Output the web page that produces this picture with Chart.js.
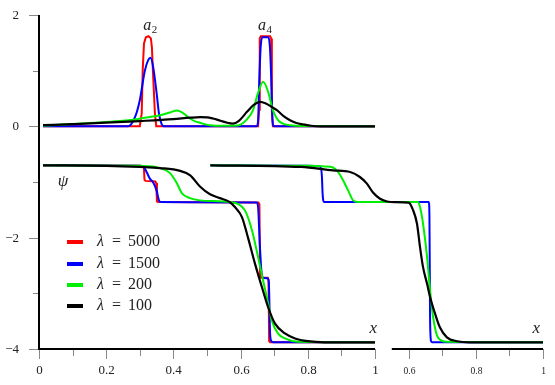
<!DOCTYPE html>
<html>
<head>
<meta charset="utf-8">
<script src="https://cdn.jsdelivr.net/npm/chart.js@4.4.0/dist/chart.umd.min.js"></script>
<style>
  html, body { margin: 0; padding: 0; background: #fff; }
  #wrap { width: 555px; height: 385px; }
</style>
</head>
<body>
<div id="wrap"><canvas id="chart" width="555" height="385"></canvas></div>
<script>
// Верхний ряд: амплитуды a(x) у узлов a2 и a4
const aRedX = [0.012, 0.300, 0.3057, 0.3086, 0.3125, 0.318, 0.326, 0.333, 0.336, 0.339, 0.345, 0.349, 0.652, 0.655, 0.657, 0.660, 0.688, 0.691, 0.693, 0.696, 1.0];
const aRedY = [0, 0, 0.23, 1.0, 1.49, 1.6, 1.62, 1.58, 1.42, 1.0, 0.23, 0, 0, 0.3, 1.58, 1.62, 1.62, 1.58, 0.3, 0, 0];

const aBlueX = [0.012, 0.265, 0.286, 0.300, 0.315, 0.325, 0.332, 0.340, 0.350, 0.357, 0.365, 0.372, 0.648, 0.652, 0.656, 0.660, 0.665, 0.682, 0.687, 0.691, 0.695, 0.699, 1.0];
const aBlueY = [0, 0, 0.17, 0.47, 1.0, 1.19, 1.23, 1.06, 0.6, 0.23, 0.04, 0, 0, 0.1, 0.9, 1.45, 1.6, 1.6, 1.45, 0.9, 0.1, 0, 0];

const aGreenX = [0.012, 0.1, 0.18, 0.25, 0.28, 0.32, 0.36, 0.39, 0.41, 0.42, 0.435, 0.449, 0.465, 0.479, 0.495, 0.509, 0.54, 0.58, 0.6, 0.618, 0.637, 0.652, 0.667, 0.682, 0.696, 0.707, 0.717, 0.73, 0.747, 0.78, 1.0];
const aGreenY = [0.01, 0.04, 0.07, 0.1, 0.12, 0.16, 0.2, 0.25, 0.285, 0.27, 0.21, 0.14, 0.09, 0.065, 0.035, 0.02, 0.01, 0.01, 0.03, 0.12, 0.29, 0.6, 0.8, 0.62, 0.29, 0.15, 0.08, 0.04, 0.02, 0.005, 0];

const aBlackX = [0.012, 0.1, 0.2, 0.3, 0.4, 0.45, 0.48, 0.5, 0.518, 0.54, 0.56, 0.577, 0.595, 0.619, 0.64, 0.658, 0.675, 0.69, 0.708, 0.727, 0.747, 0.766, 0.786, 0.81, 0.84, 1.0];
const aBlackY = [0.02, 0.04, 0.065, 0.095, 0.13, 0.155, 0.165, 0.162, 0.14, 0.1, 0.065, 0.05, 0.1, 0.26, 0.39, 0.44, 0.41, 0.36, 0.29, 0.19, 0.11, 0.06, 0.035, 0.01, 0, 0];

// Профиль psi(x), основной график
const psiRedX = [0.012, 0.30, 0.312, 0.314, 0.317, 0.346, 0.349, 0.351, 0.354, 0.653, 0.656, 0.658, 0.661, 0.681, 0.683, 0.685, 0.688, 1.0];
const psiRedY = [-0.70, -0.71, -0.72, -0.96, -0.98, -0.99, -1.02, -1.35, -1.36, -1.37, -1.4, -2.7, -2.72, -2.72, -2.75, -3.86, -3.88, -3.88];

const psiBlueX = [0.012, 0.30, 0.31, 0.321, 0.33, 0.339, 0.35, 0.357, 0.362, 0.648, 0.652, 0.657, 0.662, 0.667, 0.68, 0.684, 0.688, 0.692, 0.698, 1.0];
const psiBlueY = [-0.70, -0.71, -0.72, -0.83, -0.94, -1.0, -1.15, -1.33, -1.36, -1.37, -1.45, -2.1, -2.6, -2.72, -2.73, -2.8, -3.75, -3.86, -3.88, -3.88];

const psiGreenX = [0.012, 0.3, 0.34, 0.36, 0.39, 0.41, 0.425, 0.449, 0.479, 0.55, 0.59, 0.613, 0.634, 0.652, 0.667, 0.682, 0.693, 0.711, 0.732, 0.77, 1.0];
const psiGreenY = [-0.70, -0.71, -0.72, -0.75, -0.84, -1.02, -1.2, -1.29, -1.33, -1.35, -1.39, -1.51, -1.87, -2.35, -2.77, -3.18, -3.49, -3.72, -3.81, -3.87, -3.88];

const psiBlackX = [0.012, 0.2, 0.3, 0.36, 0.42, 0.45, 0.479, 0.509, 0.539, 0.568, 0.583, 0.604, 0.622, 0.643, 0.664, 0.682, 0.702, 0.732, 0.762, 0.8, 0.85, 1.0];
const psiBlackY = [-0.70, -0.71, -0.73, -0.75, -0.80, -0.88, -1.08, -1.22, -1.29, -1.36, -1.45, -1.63, -2.0, -2.47, -2.9, -3.25, -3.54, -3.72, -3.81, -3.86, -3.88, -3.88];

// Профиль psi(x), вставка справа (своя ось x, сдвинута)
const psi2BlueX = [0.01, 0.3, 0.338, 0.342, 0.344, 0.347, 0.35, 0.66, 0.662, 0.664, 0.667, 0.67, 1.0];
const psi2BlueY = [-0.70, -0.71, -0.72, -0.9, -1.2, -1.35, -1.36, -1.36, -1.6, -3.5, -3.86, -3.88, -3.88];

const psi2GreenX = [0.01, 0.3, 0.35, 0.375, 0.39, 0.405, 0.42, 0.435, 0.45, 0.628, 0.634, 0.643, 0.655, 0.664, 0.673, 0.688, 0.714, 1.0];
const psi2GreenY = [-0.70, -0.71, -0.72, -0.74, -0.82, -0.97, -1.15, -1.33, -1.36, -1.36, -1.45, -1.75, -2.35, -2.95, -3.43, -3.8, -3.87, -3.88];

const psi2BlackX = [0.01, 0.28, 0.375, 0.426, 0.455, 0.476, 0.494, 0.515, 0.536, 0.56, 0.6, 0.613, 0.625, 0.634, 0.643, 0.655, 0.664, 0.679, 0.693, 0.714, 0.744, 0.78, 1.0];
const psi2BlackY = [-0.70, -0.73, -0.79, -0.82, -0.91, -1.03, -1.19, -1.3, -1.35, -1.36, -1.37, -1.5, -1.75, -2.17, -2.53, -2.83, -3.07, -3.37, -3.61, -3.79, -3.86, -3.88, -3.88];

// Подписи
const seriesLabels = ['λ = 5000', 'λ = 1500', 'λ = 200', 'λ = 100'];
const seriesColors = ['#ff0000', '#0000ff', '#00ee00', '#000000'];
const yTicks = [2, 1, 0, -1, -2, -3, -4];
const yTickLabels = ['2', '', '0', '', '−2', '', '−4'];
const xTicks = [0, 0.1, 0.2, 0.3, 0.4, 0.5, 0.6, 0.7, 0.8, 0.9, 1];
const xTickLabels = ['0', '', '0.2', '', '0.4', '', '0.6', '', '0.8', '', '1'];
const insetTicks = [0.6, 0.7, 0.8, 0.9, 1];
const insetTickLabels = ['0.6', '', '0.8', '', '1'];
const peakLabels = ['2', '4'];
const peakAt = [0.33, 0.672];

const INSET_SHIFT = 0.5;   // вставка рисуется на той же шкале, сдвинутой на 0.5
const INSET_FROM = 0.55;   // где начинается ось вставки

const pts = (xs, ys, shift = 0) => xs.map((x, i) => ({ x: x + shift, y: ys[i] }));

function line(label, xs, ys, colorIdx, opts = {}) {
  return Object.assign({
    label,
    data: pts(xs, ys, opts.shift || 0),
    borderColor: seriesColors[colorIdx],
    backgroundColor: seriesColors[colorIdx],
    borderWidth: colorIdx === 3 ? 2.2 : 2,
    pointRadius: 0,
    fill: false,
    order: 4 - colorIdx,
    cubicInterpolationMode: colorIdx === 0 ? 'default' : 'monotone',
    tension: 0,
  }, opts.extra || {});
}

const datasets = [
  line('a ' + seriesLabels[0], aRedX, aRedY, 0),
  line('a ' + seriesLabels[1], aBlueX, aBlueY, 1),
  line('a ' + seriesLabels[2], aGreenX, aGreenY, 2),
  line('a ' + seriesLabels[3], aBlackX, aBlackY, 3),
  line(seriesLabels[0], psiRedX, psiRedY, 0, { extra: { legend: true } }),
  line(seriesLabels[1], psiBlueX, psiBlueY, 1, { extra: { legend: true } }),
  line(seriesLabels[2], psiGreenX, psiGreenY, 2, { extra: { legend: true } }),
  line(seriesLabels[3], psiBlackX, psiBlackY, 3, { extra: { legend: true } }),
  line('inset ' + seriesLabels[1], psi2BlueX, psi2BlueY, 1, { shift: INSET_SHIFT }),
  line('inset ' + seriesLabels[2], psi2GreenX, psi2GreenY, 2, { shift: INSET_SHIFT }),
  line('inset ' + seriesLabels[3], psi2BlackX, psi2BlackY, 3, { shift: INSET_SHIFT }),
];

const SERIF = '"Liberation Serif", "DejaVu Serif", serif';

// Оси, подписи и легенда в стиле LaTeX-рисунка
const axesAndLabels = {
  id: 'axesAndLabels',
  afterDatasetsDraw(chart) {
    const { ctx, chartArea: { left, top, bottom }, scales: { x, y } } = chart;
    ctx.save();

    // тики оси y
    ctx.strokeStyle = '#888';
    ctx.lineWidth = 1;
    ctx.fillStyle = '#222';
    ctx.font = '13px ' + SERIF;
    ctx.textAlign = 'right';
    ctx.textBaseline = 'middle';
    yTicks.forEach((v, i) => {
      const py = Math.round(y.getPixelForValue(v)) + 0.5;
      const len = yTickLabels[i] ? 10 : 6;
      ctx.beginPath();
      ctx.moveTo(left - len, py);
      ctx.lineTo(left, py);
      ctx.stroke();
      if (yTickLabels[i]) ctx.fillText(yTickLabels[i], left - 20, py);
    });

    // тики оси x
    ctx.textAlign = 'center';
    const drawXTicks = (ticks, labels, shift, font) => {
      ctx.font = font;
      ticks.forEach((v, i) => {
        const px = Math.round(x.getPixelForValue(v + shift)) + 0.5;
        const len = labels[i] ? 10 : 7;
        ctx.beginPath();
        ctx.moveTo(px, bottom);
        ctx.lineTo(px, bottom + len);
        ctx.stroke();
        if (labels[i]) ctx.fillText(labels[i], px, bottom + 22);
      });
    };
    drawXTicks(xTicks, xTickLabels, 0, '13px ' + SERIF);
    drawXTicks(insetTicks, insetTickLabels, INSET_SHIFT, '9.5px ' + SERIF);

    // линии осей
    ctx.strokeStyle = '#000';
    ctx.lineWidth = 2;
    ctx.beginPath();
    ctx.moveTo(left, top);
    ctx.lineTo(left, bottom + 1);
    ctx.moveTo(left, bottom);
    ctx.lineTo(x.getPixelForValue(1), bottom);
    ctx.moveTo(x.getPixelForValue(INSET_FROM + INSET_SHIFT), bottom);
    ctx.lineTo(x.getPixelForValue(1 + INSET_SHIFT), bottom);
    ctx.stroke();

    // a_2, a_4
    ctx.fillStyle = '#222';
    ctx.textBaseline = 'alphabetic';
    peakLabels.forEach((sub, i) => {
      const px = x.getPixelForValue(peakAt[i]);
      const py = y.getPixelForValue(1.8) + 4;
      ctx.textAlign = 'left';
      ctx.font = 'italic 16px ' + SERIF;
      const w = ctx.measureText('a').width;
      ctx.font = '11px ' + SERIF;
      const ws = ctx.measureText(sub).width;
      const x0 = px - (w + ws) / 2;
      ctx.font = 'italic 16px ' + SERIF;
      ctx.fillText('a', x0, py);
      ctx.font = '11px ' + SERIF;
      ctx.fillText(sub, x0 + w + 0.5, py + 3);
    });

    // psi и x
    ctx.font = 'italic 17px ' + SERIF;
    ctx.textAlign = 'center';
    ctx.textBaseline = 'middle';
    ctx.fillText('ψ', left + 24, y.getPixelForValue(-1.0));
    ctx.fillText('x', x.getPixelForValue(0.995), y.getPixelForValue(-3.63));
    ctx.fillText('x', x.getPixelForValue(0.98 + INSET_SHIFT), y.getPixelForValue(-3.63));

    // легенда
    const legendItems = chart.data.datasets.filter((d) => d.legend);
    legendItems.forEach((d, i) => {
      const ly = Math.round(y.getPixelForValue(-2.08) + i * 21.4);
      ctx.strokeStyle = d.borderColor;
      ctx.lineWidth = 4;
      ctx.beginPath();
      ctx.moveTo(left + 28, ly);
      ctx.lineTo(left + 44, ly);
      ctx.stroke();
      const [lhs, rhs] = d.label.split(' = ');
      ctx.fillStyle = '#222';
      ctx.textAlign = 'left';
      ctx.font = 'italic 16px ' + SERIF;
      ctx.fillText(lhs, left + 58, ly);
      ctx.font = '16px ' + SERIF;
      ctx.fillText('=', left + 73, ly);
      ctx.fillText(rhs, left + 89, ly);
    });

    ctx.restore();
  },
};

new Chart(document.getElementById('chart'), {
  type: 'line',
  data: { datasets },
  options: {
    responsive: false,
    animation: false,
    layout: { padding: { left: 39, right: 12, top: 15, bottom: 36 } },
    plugins: {
      legend: { display: false },
      tooltip: { enabled: false },
    },
    scales: {
      x: { type: 'linear', min: 0, max: 1 + INSET_SHIFT, display: false },
      y: { type: 'linear', min: -4, max: 2, display: false },
    },
  },
  plugins: [axesAndLabels],
});
</script>
</body>
</html>
